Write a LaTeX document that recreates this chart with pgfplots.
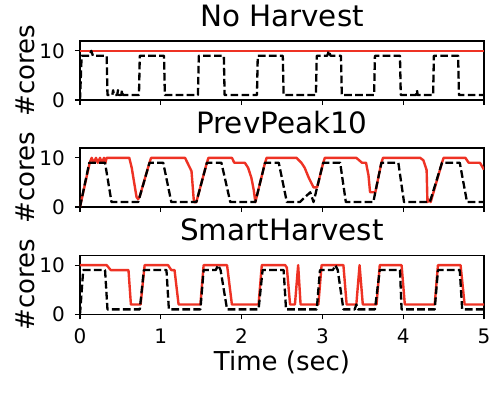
\documentclass[border=0pt]{standalone}
\usepackage{fontspec}
\setmainfont{DejaVu Sans}
\usepackage{pgfplots}
\pgfplotsset{compat=1.18}
\definecolor{myred}{RGB}{238,50,36}
\pgfplotsset{
  panel/.style={
    scale only axis, width=404pt, height=59pt,
    xmin=0, xmax=5, ymin=0, ymax=12,
    xtick={0,1,2,3,4,5}, ytick={0,10},
    tick pos=left,
    tick align=outside, major tick length=5pt,
    every tick/.style={line width=1.1pt, black},
    axis line style={line width=1.1pt},
    /pgf/number format/assume math mode=true,
    every tick label/.append style={font=\fontsize{20}{24}\selectfont},
    xticklabel style={anchor=base, inner sep=0pt, yshift=-24.5pt},
    yticklabel style={anchor=east, inner sep=0pt, xshift=-10pt},
    ylabel={\#cores},
    ylabel style={at={([xshift=-45pt]axis description cs:0,0.5)}, anchor=base, inner sep=0pt, font=\fontsize{26}{30}\selectfont},
    title style={at={(axis description cs:0.5,1)}, anchor=base, inner sep=0pt, yshift=9pt, font=\fontsize{29.4}{35}\selectfont},
  },
  redl/.style={color=myred, line width=2.4pt, line join=round, no marks},
  blkl/.style={color=black, line width=2.3pt, dash pattern=on 7.7pt off 3.3pt, line join=round, no marks},
}
\begin{document}
\begin{tikzpicture}[x=1pt,y=1pt]
\path[use as bounding box] (0,0) rectangle (504,-394);
\begin{axis}[panel, at={(80pt,-41pt)}, anchor=north west, title={No Harvest}, xticklabels={}]
\addplot[redl] coordinates {(0,10) (5,10)};
\addplot[blkl] coordinates {(0,0) (0.02,9) (0.12,9) (0.14,10) (0.16,9) (0.33,9) (0.34,1) (0.40,1) (0.41,2) (0.42,1) (0.46,1) (0.47,2) (0.48,1) (0.51,1) (0.52,2) (0.53,1) (0.73,1) (0.74,9) (1.04,9) (1.05,1) (1.46,1) (1.47,9) (1.78,9) (1.79,1) (2.19,1) (2.20,9) (2.51,9) (2.52,1) (2.92,1) (2.93,9) (3.06,9) (3.08,10) (3.10,9) (3.23,9) (3.24,1) (3.64,1) (3.65,9) (3.96,9) (3.97,1) (4.16,1) (4.17,2) (4.18,1) (4.37,1) (4.38,9) (4.68,9) (4.69,1) (5.0,1)};
\end{axis}
\begin{axis}[panel, at={(80pt,-148pt)}, anchor=north west, title={PrevPeak10}, xticklabels={}]
\addplot[redl] coordinates {(0,0) (0.12,9) (0.145,10) (0.17,9) (0.198,10) (0.22,9) (0.248,10) (0.27,9) (0.297,10) (0.315,9) (0.33,10) (0.61,10) (0.64,8) (0.68,4) (0.70,2) (0.72,1.6) (0.74,2.2) (0.86,9) (0.88,10) (1.30,10) (1.38,7.3) (1.41,1) (1.44,1) (1.57,9) (1.59,10) (1.88,10) (1.91,9) (2.04,9) (2.08,8) (2.12,6) (2.15,3.5) (2.17,1) (2.29,9) (2.31,10) (2.68,10) (2.74,9) (2.78,8) (2.83,6) (2.89,4) (2.935,4) (3.01,9) (3.03,10) (3.42,10) (3.49,9) (3.54,9) (3.57,6.5) (3.59,3) (3.655,3) (3.73,9) (3.75,10) (4.21,10) (4.25,9.5) (4.29,7.5) (4.30,1) (4.32,1.5) (4.34,1) (4.48,9) (4.50,10) (4.77,10) (4.81,9) (4.95,9) (5.0,7.6)};
\addplot[blkl] coordinates {(0,0) (0.115,9) (0.31,9) (0.39,1) (0.72,1) (0.86,9) (1.03,9) (1.13,1) (1.44,1) (1.57,9) (1.75,9) (1.86,1) (2.17,1) (2.29,9) (2.46,9) (2.56,1) (2.72,1) (2.85,3) (2.89,1) (3.01,9) (3.22,9) (3.29,1) (3.63,1) (3.73,9) (3.94,9) (4.01,1) (4.33,1) (4.48,9) (4.70,9) (4.79,1) (5,1)};
\end{axis}
\begin{axis}[panel, at={(80pt,-255.3pt)}, anchor=north west, title={SmartHarvest}, xlabel={Time (sec)},
  xlabel style={at={([yshift=-56pt]axis description cs:0.5,0)}, anchor=base, inner sep=0pt, font=\fontsize{26}{30}\selectfont}]
\addplot[redl] coordinates {(0,10) (0.33,10) (0.38,9) (0.60,9) (0.63,2) (0.75,2) (0.80,10) (1.09,10) (1.13,9) (1.17,9) (1.22,2) (1.49,2) (1.53,10) (1.82,10) (1.88,2) (2.21,2) (2.25,10) (2.54,10) (2.56,9.5) (2.60,2) (2.66,2) (2.70,10) (2.73,2) (2.95,2) (2.99,10) (3.26,10) (3.30,2) (3.42,2) (3.46,10) (3.50,2) (3.67,2) (3.71,10) (3.98,10) (4.02,2) (4.39,2) (4.43,10) (4.71,10) (4.76,2) (5,2)};
\addplot[blkl] coordinates {(0,0) (0.04,9) (0.31,9) (0.34,1) (0.74,1) (0.79,9) (1.07,9) (1.10,1) (1.49,1) (1.53,9) (1.68,9) (1.71,10) (1.74,9) (1.82,1) (2.21,1) (2.26,9) (2.52,9) (2.55,1) (2.93,1) (2.97,9) (3.13,9) (3.16,10) (3.19,9) (3.26,1) (3.40,1) (3.42,2) (3.44,1) (3.65,1) (3.71,9) (3.96,9) (3.98,1) (4.39,1) (4.43,9) (4.70,9) (4.73,1) (5,1)};
\end{axis}
\end{tikzpicture}
\end{document}
